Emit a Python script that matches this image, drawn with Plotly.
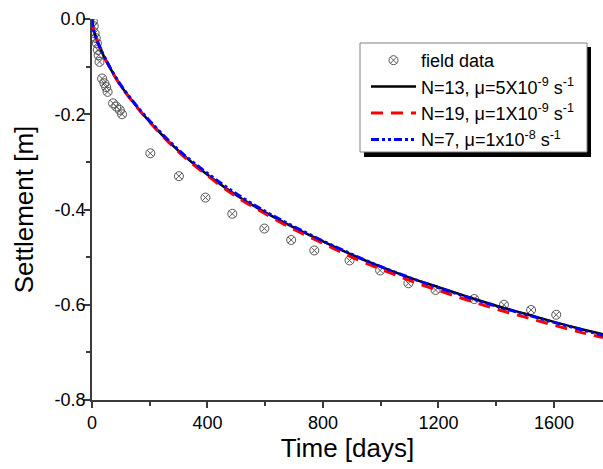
import plotly.graph_objects as go

# Field data (time in days, settlement in m)
field_days = [3, 6, 9, 13, 17, 20, 23, 26, 35, 43, 49, 54, 73, 84, 96, 104,
              202, 301, 393, 486, 597, 690, 770, 892, 998, 1096, 1190, 1324,
              1427, 1521, 1608]
field_settle = [-0.005, -0.015, -0.03, -0.04, -0.051, -0.065, -0.076, -0.09,
                -0.125, -0.135, -0.143, -0.153, -0.177, -0.184, -0.191, -0.200,
                -0.282, -0.330, -0.375, -0.409, -0.440, -0.464, -0.486, -0.507,
                -0.528, -0.555, -0.569, -0.588, -0.600, -0.611, -0.621]

# Model curves
model_days = [0, 2, 5, 10, 15, 30, 60, 100, 150, 200, 300, 400, 500, 600, 700,
              800, 900, 1000, 1100, 1200, 1300, 1400, 1500, 1600, 1700, 1770]
n13_settle = [0.0, -0.012, -0.022, -0.032, -0.041, -0.064, -0.100, -0.140,
              -0.180, -0.216, -0.277, -0.327, -0.370, -0.406, -0.438, -0.467,
              -0.495, -0.520, -0.543, -0.563, -0.583, -0.602, -0.619, -0.636,
              -0.652, -0.662]
n19_settle = [0.0, -0.012, -0.022, -0.032, -0.041, -0.064, -0.100, -0.141,
              -0.181, -0.217, -0.279, -0.329, -0.373, -0.409, -0.442, -0.471,
              -0.500, -0.525, -0.549, -0.570, -0.590, -0.609, -0.626, -0.643,
              -0.659, -0.669]
n7_settle = [0.0, -0.012, -0.022, -0.032, -0.041, -0.063, -0.099, -0.139,
             -0.179, -0.214, -0.275, -0.324, -0.367, -0.404, -0.436, -0.466,
             -0.494, -0.520, -0.543, -0.564, -0.584, -0.603, -0.620, -0.637,
             -0.653, -0.664]

x_tickvals = [0, 400, 800, 1200, 1600]
y_tickvals = [0.0, -0.2, -0.4, -0.6, -0.8]

FONT = "Arial, Liberation Sans, sans-serif"
AX = "#3a3a3a"

fig = go.Figure()
fig.add_trace(go.Scatter(
    x=field_days, y=field_settle, mode="markers", name="field data",
    marker=dict(symbol="circle-x-open", size=9, color="#555555",
                line=dict(width=1, color="#555555")),
))
fig.add_trace(go.Scatter(
    x=model_days, y=n13_settle, mode="lines", line_shape="spline",
    name="N=13, μ=5X10<sup>-9</sup> s<sup>-1</sup>",
    line=dict(color="black", width=2.5),
))
fig.add_trace(go.Scatter(
    x=model_days, y=n19_settle, mode="lines", line_shape="spline",
    name="N=19, μ=1X10<sup>-9</sup> s<sup>-1</sup>",
    line=dict(color="#ff0000", width=3, dash="12px,8px"),
))
fig.add_trace(go.Scatter(
    x=model_days, y=n7_settle, mode="lines", line_shape="spline",
    name="N=7, μ=1x10<sup>-8</sup> s<sup>-1</sup>",
    line=dict(color="#0000ff", width=3, dash="8px,3px,3px,3px,3px,3px"),
))

# legend frame (box + drop shadow) in paper coordinates
def px_to_paper_x(px):
    return (px - 92) / 511.0

def px_to_paper_y(py):
    return (400 - py) / 381.0

fig.update_layout(
    width=603, height=469,
    margin=dict(l=92, r=0, t=19, b=69),
    paper_bgcolor="white", plot_bgcolor="white",
    font=dict(family=FONT, color="black", size=18),
    showlegend=True,
    legend=dict(
        x=px_to_paper_x(366), y=px_to_paper_y(42), xanchor="left", yanchor="top",
        bgcolor="rgba(0,0,0,0)", borderwidth=0,
        font=dict(family=FONT, size=18, color="black"),
        itemwidth=45, tracegroupgap=0,
    ),
    shapes=[
        dict(type="rect", xref="paper", yref="paper",
             x0=px_to_paper_x(364), x1=px_to_paper_x(591),
             y0=px_to_paper_y(157), y1=px_to_paper_y(47),
             fillcolor="black", line=dict(width=0), layer="above"),
        dict(type="rect", xref="paper", yref="paper",
             x0=px_to_paper_x(360), x1=px_to_paper_x(587),
             y0=px_to_paper_y(152), y1=px_to_paper_y(43),
             fillcolor="white", line=dict(width=1, color="#808080"), layer="above"),
    ],
)
fig.update_xaxes(
    range=[0, 1770], tickvals=x_tickvals, ticktext=[str(v) for v in x_tickvals],
    showgrid=False, zeroline=False, showline=True, linecolor=AX, linewidth=1.5,
    ticks="outside", ticklen=6, tickwidth=1.5, tickcolor=AX,
    tickfont=dict(size=18, family=FONT),
    minor=dict(dtick=200, tick0=0, ticks="outside", ticklen=4, tickwidth=1.5,
               tickcolor=AX, showgrid=False),
    title=dict(text="Time [days]", font=dict(size=26, family=FONT), standoff=6),
    automargin=False,
)
fig.update_yaxes(
    range=[-0.8, 0.0], tickvals=y_tickvals,
    ticktext=["%.1f" % v for v in y_tickvals],
    showgrid=False, zeroline=False, showline=True, linecolor=AX, linewidth=1.5,
    ticks="outside", ticklen=6, tickwidth=1.5, tickcolor=AX,
    tickfont=dict(size=18, family=FONT), ticklabelstandoff=-5,
    minor=dict(dtick=0.1, tick0=0, ticks="outside", ticklen=4, tickwidth=1.5,
               tickcolor=AX, showgrid=False),
    title=dict(text="Settlement [m]", font=dict(size=26, family=FONT), standoff=14),
    automargin=False,
)

fig.write_html("out.html", config={"displayModeBar": False},
               post_script="document.body.style.margin='0px';")
